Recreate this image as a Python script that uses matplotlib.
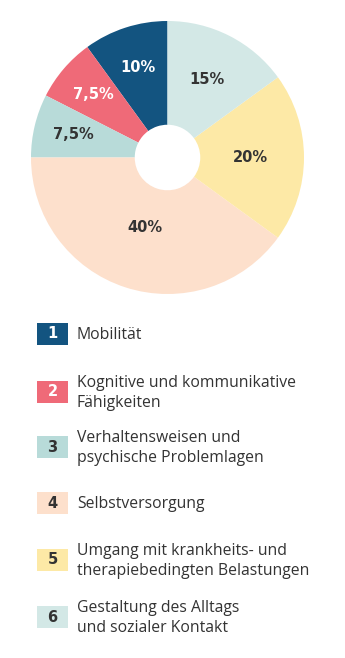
import matplotlib.pyplot as plt
from matplotlib.patches import Rectangle
import numpy as np

# data, in legend order (1..6), drawn counter-clockwise from 12 o'clock
numbers = ["1", "2", "3", "4", "5", "6"]
labels = [
    "Mobilität",
    "Kognitive und kommunikative\nFähigkeiten",
    "Verhaltensweisen und\npsychische Problemlagen",
    "Selbstversorgung",
    "Umgang mit krankheits- und\ntherapiebedingten Belastungen",
    "Gestaltung des Alltags\nund sozialer Kontakt",
]
shares = [10, 7.5, 7.5, 40, 20, 15]
pct_text = ["10%", "7,5%", "7,5%", "40%", "20%", "15%"]

colors = ["#135480", "#ef6a78", "#b8dbd9", "#fde0cc", "#fde9a6", "#d3e8e6"]
text_colors = ["white", "white", "#333333", "#333333", "#333333", "#333333"]
label_r = [0.69, 0.71, 0.71, 0.54, 0.61, 0.64]

W, H = 345, 658
fig = plt.figure(figsize=(W / 100, H / 100), dpi=100)

# pie
cx, cy, r = 167.5, 157.5, 136.5
ax = fig.add_axes([(cx - r) / W, (H - cy - r) / H, 2 * r / W, 2 * r / H])
wedges, _ = ax.pie(shares, colors=colors, startangle=90, counterclock=True,
                   radius=1, wedgeprops=dict(width=0.76, linewidth=0))
for w, t, tc, lr in zip(wedges, pct_text, text_colors, label_r):
    ang = np.deg2rad((w.theta1 + w.theta2) / 2)
    ax.text(lr * np.cos(ang), lr * np.sin(ang), t, ha="center", va="center",
            fontsize=10.5, fontweight="bold", color=tc, family="DejaVu Sans")
ax.set_xlim(-1, 1)
ax.set_ylim(-1, 1)
ax.axis("off")

# legend
lg = fig.add_axes([0, 0, 1, 1])
lg.set_xlim(0, W)
lg.set_ylim(H, 0)
lg.axis("off")
row_y = [334, 392, 447, 503, 560, 617]
for n, lab, c, tc, y in zip(numbers, labels, colors, text_colors, row_y):
    lg.add_patch(Rectangle((37, y - 11), 31, 22, color=c, lw=0))
    lg.text(52.5, y, n, ha="center", va="center", fontsize=10.5,
            fontweight="bold", color=tc, family="DejaVu Sans")
    lg.text(77, y + 1, lab, ha="left", va="center", fontsize=11.3,
            color="#333333", family="Open Sans", linespacing=1.35)

fig.savefig("out.png", dpi=100)
